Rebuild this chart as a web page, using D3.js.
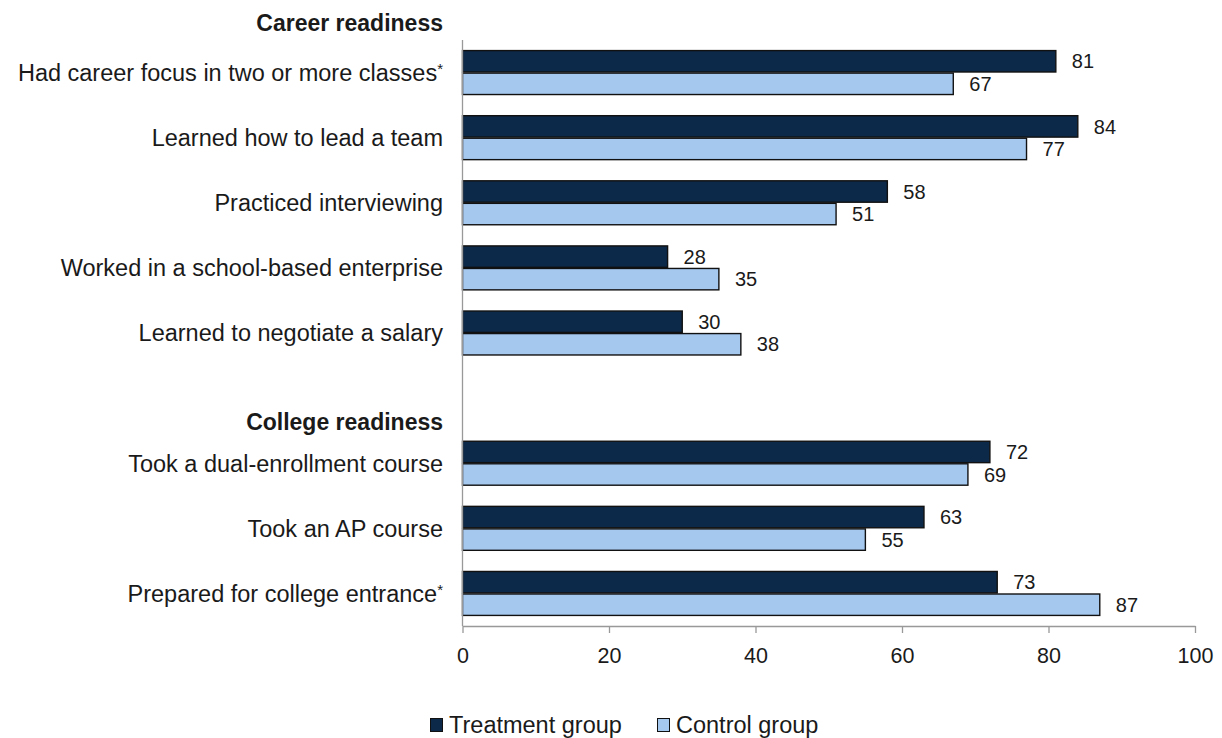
<!DOCTYPE html>
<html>
<head>
<meta charset="utf-8">
<script src="https://cdn.jsdelivr.net/npm/d3@7"></script>
<style>
  html, body { margin: 0; padding: 0; background: #fff; }
  svg text { font-family: "Liberation Sans", Arial, sans-serif; fill: #1a1a1a; }
</style>
</head>
<body>
<svg id="chart" width="1222" height="738"></svg>
<script>
// Survey items (blank entry separates the two sections)
const categories = [
  "Had career focus in two or more classes*",
  "Learned how to lead a team",
  "Practiced interviewing",
  "Worked in a school-based enterprise",
  "Learned to negotiate a salary",
  "",
  "Took a dual-enrollment course",
  "Took an AP course",
  "Prepared for college entrance*"
];
const treatment = [81, 84, 58, 28, 30, null, 72, 63, 73];
const control   = [67, 77, 51, 35, 38, null, 69, 55, 87];
const seriesNames = ["Treatment group", "Control group"];
const seriesColors = ["#0d2949", "#a5c8ef"];
const sectionHeadings = [
  { label: "Career readiness", before: 0 },
  { label: "College readiness", before: 6 }
];
const xTicks = [0, 20, 40, 60, 80, 100];

const svg = d3.select("#chart");
const plot = { left: 462.5, right: 1195, top: 40, bottom: 626 };

const x = d3.scaleLinear().domain([0, 100]).range([plot.left, plot.right]);
const y = d3.scaleBand().domain(d3.range(categories.length))
  .range([plot.top, plot.bottom]).paddingInner(0.325).paddingOuter(0.1625);
const ySeries = d3.scaleBand().domain([0, 1]).range([0, y.bandwidth()]).paddingInner(0.05);

const rows = categories.map((c, i) => ({ i, label: c, vals: [treatment[i], control[i]] }))
  .filter(d => d.label !== "");

// Bars with value labels
const g = svg.append("g");
rows.forEach(r => {
  r.vals.forEach((v, s) => {
    const top = y(r.i) + ySeries(s);
    g.append("rect")
      .attr("x", x(0))
      .attr("y", top)
      .attr("width", x(v) - x(0))
      .attr("height", ySeries.bandwidth())
      .attr("fill", seriesColors[s])
      .attr("stroke", "#111")
      .attr("stroke-width", 1.4);
    g.append("text")
      .attr("x", x(v) + 16)
      .attr("y", top + ySeries.bandwidth() / 2)
      .attr("dy", "0.36em")
      .attr("font-size", 20)
      .text(v);
  });
});

// Category labels (asterisk drawn as superscript)
rows.forEach(r => {
  const t = svg.append("text")
    .attr("x", 443)
    .attr("y", y(r.i) + y.bandwidth() / 2)
    .attr("dy", "0.36em")
    .attr("text-anchor", "end")
    .attr("font-size", 23.5);
  const star = r.label.endsWith("*");
  t.append("tspan").text(star ? r.label.slice(0, -1) : r.label);
  if (star) {
    t.append("tspan").attr("dy", "-0.45em").attr("font-size", 15).text("*");
  }
});

// Section headings
sectionHeadings.forEach(h => {
  svg.append("text")
    .attr("x", 443)
    .attr("y", y(h.before) - (h.before === 0 ? 28 : 20))
    .attr("dy", "0.36em")
    .attr("text-anchor", "end")
    .attr("font-size", 23)
    .attr("font-weight", "bold")
    .text(h.label);
});

// X axis
const xAxis = svg.append("g")
  .attr("transform", `translate(0,${plot.bottom})`)
  .call(d3.axisBottom(x).tickValues(xTicks).tickSize(7).tickPadding(15).tickSizeOuter(0));
xAxis.select(".domain").attr("stroke", "#999").attr("stroke-width", 1.3);
xAxis.selectAll(".tick line").attr("stroke", "#999").attr("stroke-width", 1.3);
xAxis.selectAll(".tick text")
  .attr("font-size", 21.5)
  .attr("font-family", "Liberation Sans, Arial, sans-serif")
  .attr("fill", "#1a1a1a");

// Y axis line
svg.append("line")
  .attr("x1", x(0)).attr("x2", x(0))
  .attr("y1", plot.top).attr("y2", plot.bottom)
  .attr("stroke", "#999").attr("stroke-width", 1.3);

// Legend
const legend = svg.append("g").attr("transform", "translate(430,725)");
const legendX = [0, 227];
seriesNames.forEach((n, s) => {
  const item = legend.append("g").attr("transform", `translate(${legendX[s]},0)`);
  item.append("rect")
    .attr("x", 0.5).attr("y", -6.5)
    .attr("width", 12).attr("height", 13)
    .attr("fill", seriesColors[s])
    .attr("stroke", "#111").attr("stroke-width", 1);
  item.append("text")
    .attr("x", 19).attr("y", 0)
    .attr("dy", "0.36em")
    .attr("font-size", 23.5)
    .text(n);
});
</script>
</body>
</html>
